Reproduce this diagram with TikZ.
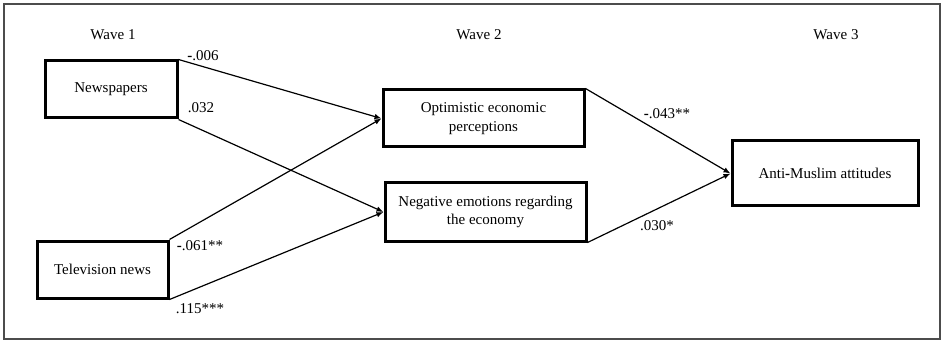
\documentclass[tikz,border=0pt]{standalone}
\usepackage{fontspec}
\setmainfont{Liberation Serif}
\usepackage{tikz}
\usetikzlibrary{arrows.meta,positioning}

\begin{document}
\begin{tikzpicture}[x=1pt,y=-1pt,
  font=\fontsize{15}{18.5}\selectfont,
  varbox/.style={draw,line width=3pt,inner sep=0pt,align=center},
  path/.style={line width=1.2pt,-{Latex[length=7pt,width=5.5pt]}},
  coef/.style={inner sep=0pt}]
\useasboundingbox (0,0) rectangle (943,342);
\draw[line width=2pt,black!70] (4,4) rectangle (940,339); % outer frame
% wave headings
\node (w1) at (113,35) {Wave 1};
\node (w2) at (479,35) {Wave 2};
\node (w3) at (836,35) {Wave 3};
% variables
\node[varbox,minimum width=132pt,minimum height=57pt] (news) at (111,89.5) {Newspapers};
\node[varbox,minimum width=131pt,minimum height=57pt] (tv) at (102.5,269.5) {Television news};
\node[varbox,minimum width=201pt,minimum height=57pt] (opt) at (483.5,118.5) {Optimistic economic\\perceptions};
\node[varbox,minimum width=201pt,minimum height=58pt] (neg) at (485.5,212) {Negative emotions regarding\\the economy};
\node[varbox,minimum width=186pt,minimum height=65pt] (anti) at (825,173.5) {Anti\textbf{-}Muslim attitudes};
% paths
\draw[path] (news.north east) -- (opt.west);
\draw[path] (news.south east) -- (neg.west);
\draw[path] (tv.north east) -- (opt.west);
\draw[path] (tv.south east) -- (neg.west);
\draw[path] (opt.north east) -- (anti.west);
\draw[path] (neg.south east) -- (anti.west);
% coefficients
\node[coef] (c1) at (203,56) {\textbf{-}.006};
\node[coef] (c2) at (201,108) {.032};
\node[coef] (c3) at (200,246) {\textbf{-}.061**};
\node[coef] (c4) at (200,309) {.115***};
\node[coef] (c5) at (667,114) {\textbf{-}.043**};
\node[coef] (c6) at (657,226) {.030*};
\end{tikzpicture}
\end{document}
